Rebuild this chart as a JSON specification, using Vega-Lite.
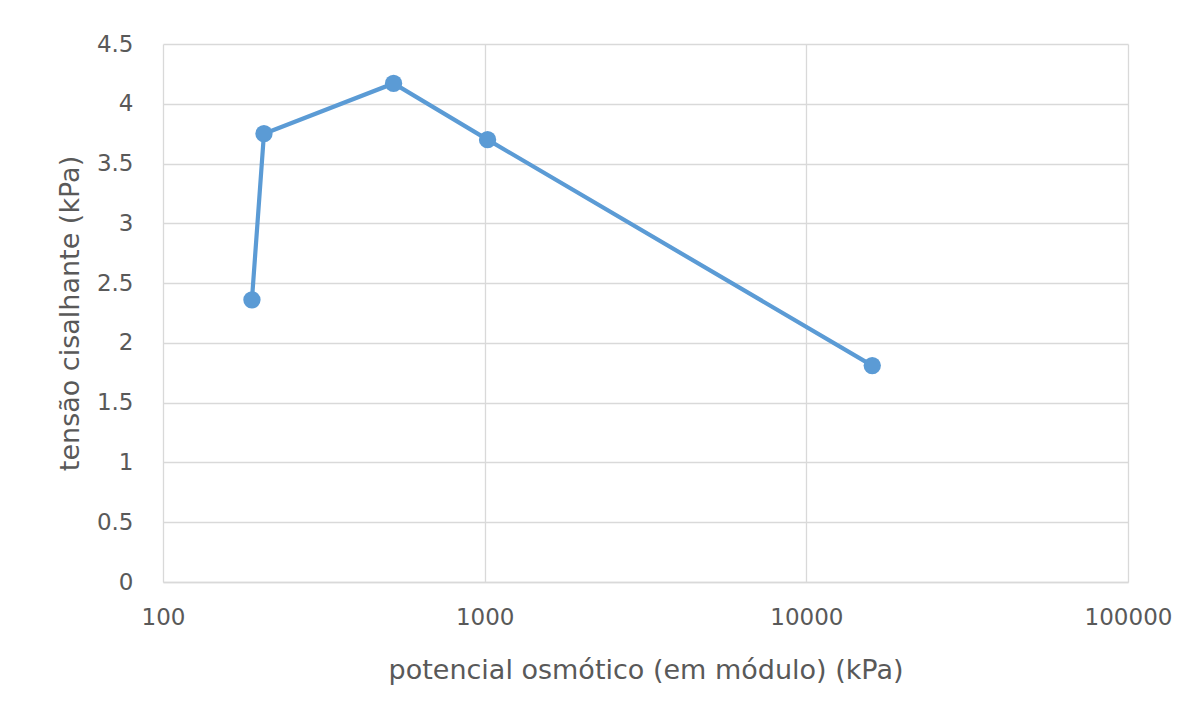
{
  "$schema": "https://vega.github.io/schema/vega-lite/v6.json",
  "autosize": "none",
  "width": 965,
  "height": 538,
  "padding": {"left": 163, "top": 44, "right": 76, "bottom": 146},
  "background": "white",
  "config": {
    "view": {"stroke": null},
    "font": "DejaVu Sans",
    "axis": {
      "labelFont": "DejaVu Sans",
      "titleFont": "DejaVu Sans",
      "labelColor": "#595959",
      "titleColor": "#595959",
      "labelFontSize": 23,
      "titleFontSize": 27,
      "titleFontWeight": "normal",
      "gridColor": "#d9d9d9",
      "gridWidth": 1.3,
      "ticks": false
    }
  },
  "data": {
    "values": [
      {"psi": 189, "tau": 2.36},
      {"psi": 206, "tau": 3.75},
      {"psi": 521, "tau": 4.17},
      {"psi": 1021, "tau": 3.70},
      {"psi": 16030, "tau": 1.81}
    ]
  },
  "layer": [
    {
      "mark": {"type": "line", "color": "#5b9bd5", "strokeWidth": 4.2},
      "encoding": {
        "x": {"field": "psi", "type": "quantitative"},
        "y": {"field": "tau", "type": "quantitative"}
      }
    },
    {
      "mark": {"type": "point", "filled": true, "color": "#5b9bd5", "size": 300, "opacity": 1},
      "encoding": {
        "x": {"field": "psi", "type": "quantitative"},
        "y": {"field": "tau", "type": "quantitative"}
      }
    }
  ],
  "encoding": {
    "x": {
      "field": "psi",
      "type": "quantitative",
      "scale": {"type": "log", "domain": [100, 100000], "nice": false},
      "axis": {
        "values": [100, 1000, 10000, 100000],
        "labelExpr": "datum.value + ''",
        "title": "potencial osmótico (em módulo) (kPa)",
        "labelPadding": 24,
        "titlePadding": 28,
        "domainColor": "#d9d9d9",
        "domainWidth": 1.3,
        "labelFlush": false
      }
    },
    "y": {
      "field": "tau",
      "type": "quantitative",
      "scale": {"domain": [0, 4.5], "nice": false, "zero": true},
      "axis": {
        "values": [0, 0.5, 1, 1.5, 2, 2.5, 3, 3.5, 4, 4.5],
        "labelExpr": "datum.value + ''",
        "title": "tensão cisalhante (kPa)",
        "labelPadding": 30,
        "titlePadding": 12,
        "domain": false
      }
    }
  }
}
